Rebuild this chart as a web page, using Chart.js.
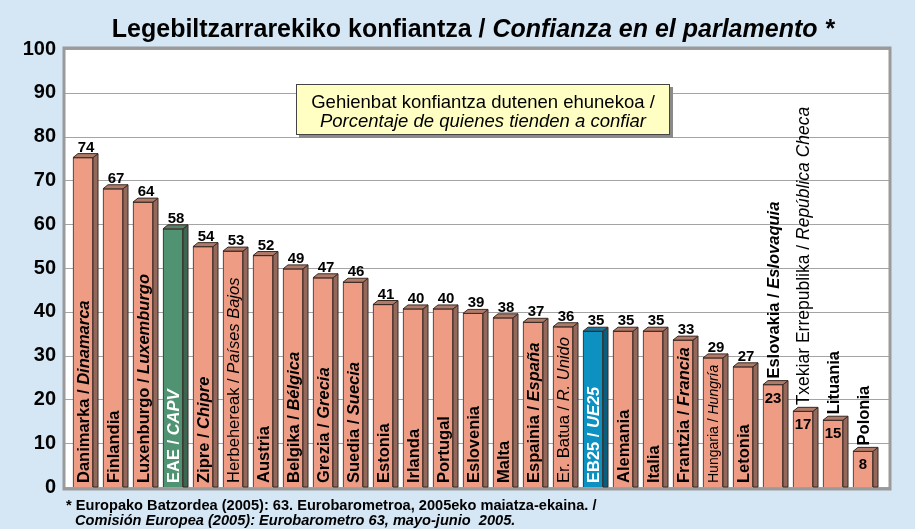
<!DOCTYPE html>
<html>
<head>
<meta charset="utf-8">
<script src="https://cdn.jsdelivr.net/npm/chart.js@4.4.0/dist/chart.umd.min.js"></script>
<style>
  body { margin: 0; background: #d5e7f5; font-family: 'Liberation Sans', Arial, sans-serif; }
  #wrap { position: relative; width: 915px; height: 529px; overflow: hidden; }
  canvas { position: absolute; left: 0; top: 0; }
  .title { position: absolute; left: 0; width: 946px; top: 13px; text-align: center;
           font-weight: bold; font-size: 25px; line-height: 30px; color: #000; }
  .note { position: absolute; left: 296px; top: 84px; width: 374px; height: 51px;
          background: #ffffc4; border: 1px solid #444; box-shadow: 3px 3px 0 #8a8a8a;
          text-align: center; font-size: 18.5px; line-height: 19px; padding-top: 7px;
          box-sizing: border-box; color: #000; }
  .source { position: absolute; left: 66px; top: 498px; font-weight: bold; font-size: 14.6px;
            line-height: 15px; color: #000; }
  .source i { padding-left: 9px; }
</style>
</head>
<body>
<div id="wrap">
  <canvas id="chart" width="915" height="529"></canvas>
  <div class="title">Legebiltzarrarekiko konfiantza / <i>Confianza en el parlamento *</i></div>
  <div class="note">Gehienbat konfiantza dutenen ehunekoa /<br><i>Porcentaje de quienes tienden a confiar</i></div>
  <div class="source">* Europako Batzordea (2005): 63. Eurobarometroa, 2005eko maiatza-ekaina. /<br><i>Comisión Europea (2005): Eurobarometro 63, mayo-junio&nbsp; 2005.</i></div>
</div>
<script>
// basque names, spanish names (empty when the same), percentages
const namesEu = ['Danimarka', 'Finlandia', 'Luxenburgo', 'EAE', 'Zipre', 'Herbehereak', 'Austria',
  'Belgika', 'Grezia', 'Suedia', 'Estonia', 'Irlanda', 'Portugal', 'Eslovenia', 'Malta',
  'Espainia', 'Er. Batua', 'EB25', 'Alemania', 'Italia', 'Frantzia', 'Hungaria', 'Letonia',
  'Eslovakia', 'Txekiar Errepublika', 'Lituania', 'Polonia'];
const namesEs = ['Dinamarca', '', 'Luxemburgo', 'CAPV', 'Chipre', 'Países Bajos', '',
  'Bélgica', 'Grecia', 'Suecia', '', '', '', '', '',
  'España', 'R. Unido', 'UE25', '', '', 'Francia', 'Hungría', '',
  'Eslovaquia', 'República Checa', '', ''];
const trust = [74, 67, 64, 58, 54, 53, 52, 49, 47, 46, 41, 40, 40, 39, 38, 37, 36, 35, 35, 35, 33, 29, 27, 23, 17, 15, 8];
const yTicks = [0, 10, 20, 30, 40, 50, 60, 70, 80, 90, 100];

// styling
const FONT = "'Liberation Sans', Arial, sans-serif";
const salmon = { front: '#ef9c85', side: '#94695b', top: '#b07a69' };
const highlight = {
  'EAE': { front: '#4f9373', side: '#3b6652', top: '#55806a' },
  'EB25': { front: '#0c91c1', side: '#0a5d7d', top: '#1a7497' }
};
const plainLabels = ['Herbehereak', 'Er. Batua', 'Txekiar Errepublika', 'Hungaria'];
const labelSize = { 'Hungaria': 14, 'Txekiar Errepublika': 17.5 };
const DX = 5, DY = 4;
// the bars sit on the front plane of the 3d box, which is a bit larger than the back wall
const FRONT_MAX = 98.4;

const colorsFor = (i) => highlight[namesEu[i]] || salmon;

const plotFrame = {
  id: 'plotFrame',
  beforeDraw(chart) {
    const { ctx, chartArea: ca, scales: { y } } = chart;
    const top = y.getPixelForValue(100), bottom = y.getPixelForValue(0);
    const left = ca.left - 3, right = ca.right + 11;
    ctx.save();
    ctx.fillStyle = '#ffffff';
    ctx.fillRect(left, top, right - left, bottom - top);
    ctx.strokeStyle = '#a4a4a4';
    ctx.lineWidth = 1;
    yTicks.forEach(v => {
      const py = Math.round(y.getPixelForValue(v)) + 0.5;
      ctx.beginPath();
      ctx.moveTo(left, py);
      ctx.lineTo(right, py);
      ctx.stroke();
    });
    ctx.strokeStyle = '#9a9a9a';
    ctx.lineWidth = 3;
    ctx.strokeRect(left - 1, top - 1, right - left + 2, bottom - top + 3);
    ctx.restore();
  }
};

function drawParts(ctx, parts, x, y) {
  let cx = x;
  parts.forEach(p => {
    ctx.font = p.font;
    ctx.fillText(p.text, cx, y);
    cx += ctx.measureText(p.text).width;
  });
}

function labelParts(i) {
  const eu = namesEu[i], es = namesEs[i];
  const weight = plainLabels.includes(eu) ? 'normal' : 'bold';
  const size = labelSize[eu] || 16.5;
  const parts = [{ text: es ? eu + ' / ' : eu, font: `${weight} ${size}px ${FONT}` }];
  if (es) parts.push({ text: es, font: `italic ${weight} ${size}px ${FONT}` });
  return parts;
}

const bars3d = {
  id: 'bars3d',
  afterDatasetsDraw(chart) {
    const { ctx } = chart;
    const meta = chart.getDatasetMeta(0);
    ctx.save();
    meta.data.forEach((bar, i) => {
      const c = colorsFor(i);
      const l = bar.x - bar.width / 2, r = bar.x + bar.width / 2;
      const t = bar.y, b = bar.base;
      ctx.lineWidth = 1;
      ctx.strokeStyle = '#3a2a24';
      // side face
      ctx.fillStyle = c.side;
      ctx.beginPath();
      ctx.moveTo(r, t); ctx.lineTo(r + DX, t - DY); ctx.lineTo(r + DX, b); ctx.lineTo(r, b);
      ctx.closePath(); ctx.fill(); ctx.stroke();
      // top face
      ctx.fillStyle = c.top;
      ctx.beginPath();
      ctx.moveTo(l, t); ctx.lineTo(l + DX, t - DY); ctx.lineTo(r + DX, t - DY); ctx.lineTo(r, t);
      ctx.closePath(); ctx.fill(); ctx.stroke();

      // category label, rotated; inside the bar when it fits, else above it
      const parts = labelParts(i);
      let w = 0;
      parts.forEach(p => { ctx.font = p.font; w += ctx.measureText(p.text).width; });
      const fits = w + 8 <= b - t;
      ctx.fillStyle = fits && highlight[namesEu[i]] ? '#ffffff' : '#000000';
      ctx.textBaseline = 'middle';
      ctx.textAlign = 'left';
      ctx.save();
      ctx.translate(bar.x + 1, fits ? b - 4 : t - DY - 2);
      ctx.rotate(-Math.PI / 2);
      drawParts(ctx, parts, 0, 0);
      ctx.restore();

      // value label
      ctx.fillStyle = '#000000';
      ctx.font = `bold 15px ${FONT}`;
      ctx.textAlign = 'center';
      ctx.textBaseline = 'alphabetic';
      if (fits) ctx.fillText(String(trust[i]), bar.x + 3, t - DY - 2);
      else ctx.fillText(String(trust[i]), bar.x, t + 18);
    });
    ctx.restore();
  }
};

new Chart(document.getElementById('chart').getContext('2d'), {
  type: 'bar',
  data: {
    labels: namesEu,
    datasets: [{
      data: trust,
      yAxisID: 'front',
      backgroundColor: trust.map((_, i) => colorsFor(i).front),
      borderColor: '#3a2a24',
      borderWidth: 1,
      barThickness: 20
    }]
  },
  options: {
    responsive: false,
    devicePixelRatio: 1,
    animation: false,
    layout: { padding: { left: 0, right: 37, top: 49, bottom: 42 } },
    plugins: { legend: { display: false }, tooltip: { enabled: false }, title: { display: false } },
    scales: {
      x: { display: false, offset: true },
      y: {
        min: 0, max: 100,
        afterFit(scale) { scale.width = 68; },
        afterBuildTicks(scale) { scale.ticks = yTicks.map(v => ({ value: v })); },
        border: { display: false },
        grid: { display: false, drawTicks: false },
        ticks: {
          padding: 12,
          color: '#000',
          font: { family: FONT, size: 20, weight: 'bold' }
        }
      },
      front: { display: false, min: 0, max: FRONT_MAX }
    }
  },
  plugins: [plotFrame, bars3d]
});
</script>
</body>
</html>
